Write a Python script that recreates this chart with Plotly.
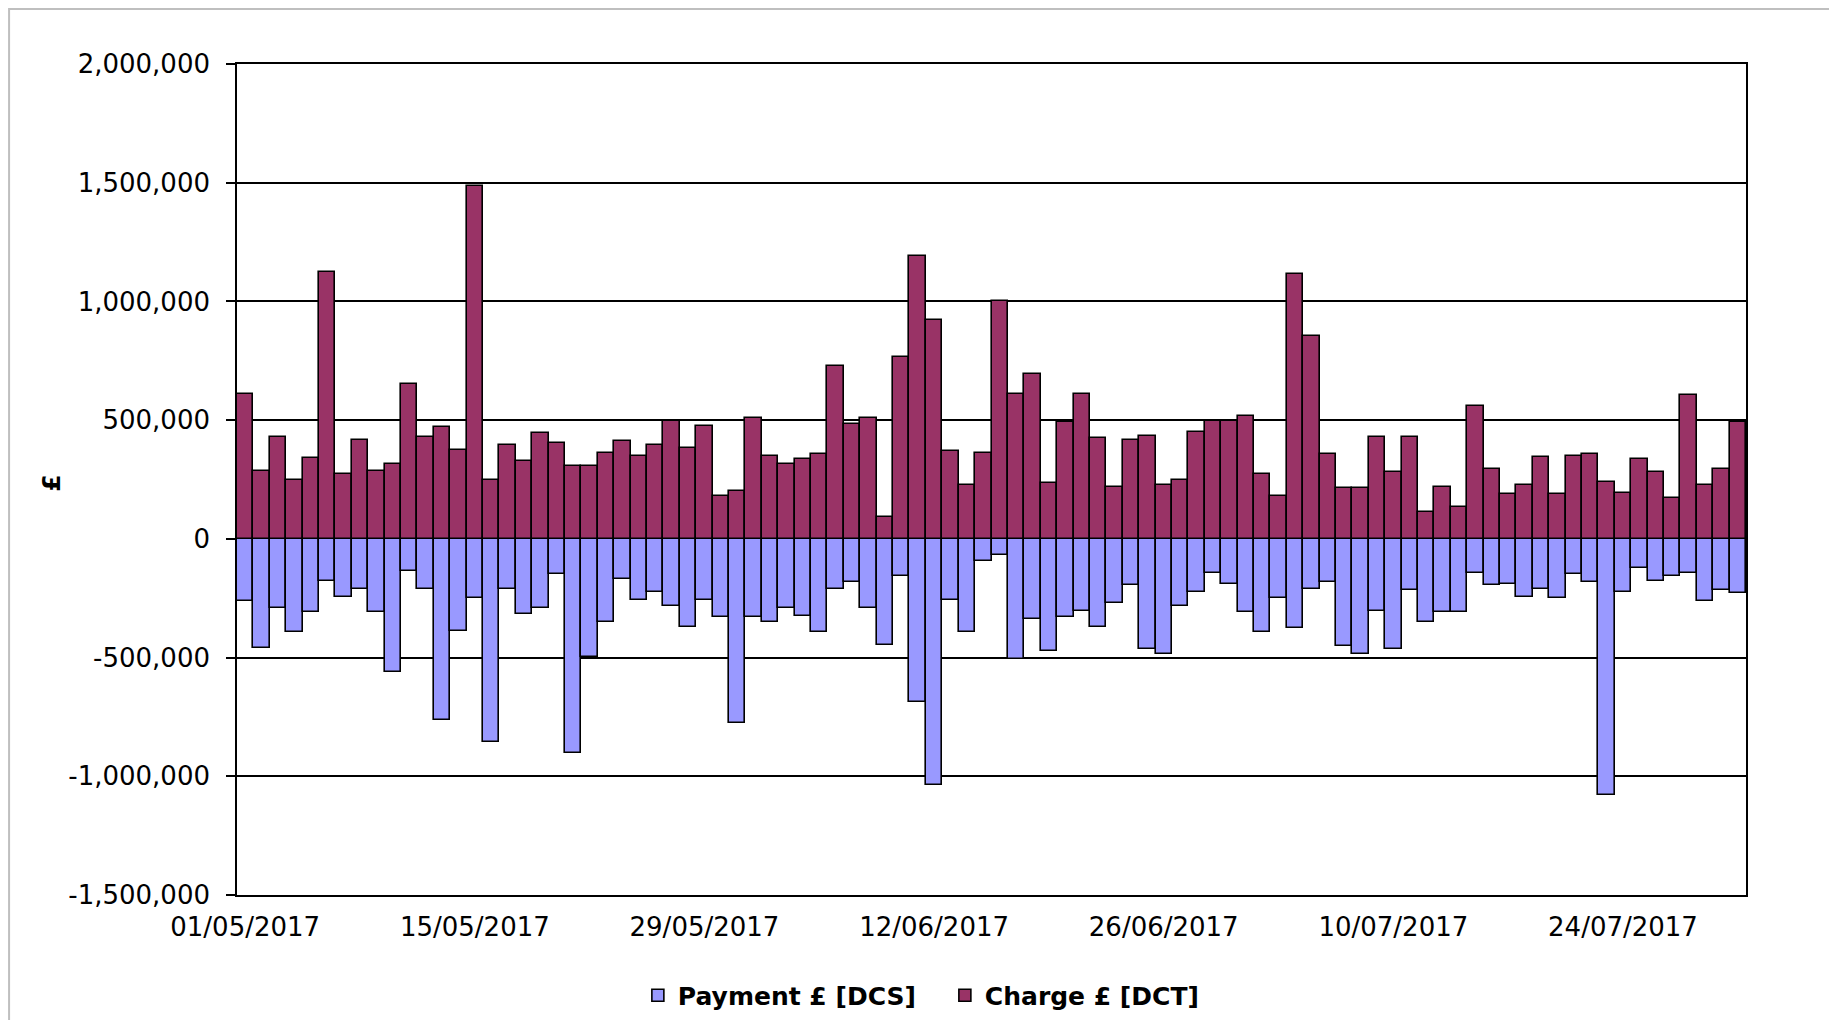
import pandas as pd
import plotly.graph_objects as go

start_date = "2017-05-01"
n_days = 92
dates = pd.date_range(start_date, periods=n_days)

charge = [
    611000, 287000, 429000, 248000, 341000, 1122000, 275000, 417000, 287000, 317000,
    652000, 429000, 470000, 375000, 1485000, 248000, 396000, 329000, 444000, 403000,
    308000, 308000, 363000, 411000, 349000, 396000, 496000, 382000, 477000, 181000,
    200000, 511000, 349000, 315000, 336000, 356000, 726000, 484000, 511000, 93000,
    766000, 1191000, 921000, 370000, 227000, 363000, 1002000, 611000, 694000, 234000,
    491000, 611000, 423000, 220000, 417000, 435000, 227000, 248000, 451000, 496000,
    496000, 516000, 275000, 181000, 1117000, 854000, 356000, 213000, 213000, 430000,
    282000, 430000, 114000, 220000, 133000, 558000, 294000, 188000, 227000, 343000,
    188000, 349000, 356000, 241000, 194000, 336000, 282000, 174000, 606000, 227000,
    294000, 491000,
]

payment = [
    -262000, -458000, -291000, -391000, -310000, -176000, -244000, -210000, -310000, -559000,
    -136000, -210000, -762000, -386000, -250000, -855000, -210000, -317000, -291000, -150000,
    -904000, -499000, -351000, -169000, -256000, -222000, -284000, -370000, -256000, -330000,
    -775000, -330000, -351000, -291000, -324000, -391000, -210000, -182000, -291000, -446000,
    -157000, -688000, -1036000, -256000, -391000, -95000, -67000, -504000, -337000, -472000,
    -330000, -303000, -370000, -270000, -196000, -465000, -485000, -284000, -222000, -143000,
    -189000, -310000, -391000, -250000, -377000, -210000, -182000, -451000, -485000, -303000,
    -465000, -215000, -351000, -310000, -310000, -143000, -196000, -189000, -243000, -210000,
    -250000, -150000, -182000, -1077000, -222000, -122000, -176000, -157000, -143000, -263000,
    -215000, -229000,
]

tick_dates = ["2017-05-01", "2017-05-15", "2017-05-29", "2017-06-12",
              "2017-06-26", "2017-07-10", "2017-07-24"]
tick_labels = ["01/05/2017", "15/05/2017", "29/05/2017", "12/06/2017",
               "26/06/2017", "10/07/2017", "24/07/2017"]

y_ticks = [-1500000, -1000000, -500000, 0, 500000, 1000000, 1500000, 2000000]
y_tick_labels = ["-1,500,000", "-1,000,000", "-500,000", "0", "500,000",
                 "1,000,000", "1,500,000", "2,000,000"]

series_names = ["Payment £ [DCS]", "Charge £ [DCT]"]
series_colors = ["#9999FF", "#993366"]

FONT = "DejaVu Sans"

fig = go.Figure()
fig.add_trace(go.Bar(
    x=dates, y=payment, name=series_names[0],
    marker=dict(color=series_colors[0], line=dict(color="black", width=1.6)),
))
fig.add_trace(go.Bar(
    x=dates, y=charge, name=series_names[1],
    marker=dict(color=series_colors[1], line=dict(color="black", width=1.6)),
))

# page offset of the figure inside the html body (default body margin)
OFF = 8
W, H = 1829, 1012
# plot area in page coordinates
PL, PR, PT, PB = 237, 1746.5, 64, 895.5
L = PL - OFF
T = PT - OFF
R = W - (PR - OFF)
B = H - (PB - OFF)
pw = W - L - R
ph = H - T - B

def px_x(x):
    return (x - OFF - L) / pw

def px_y(y):
    return (H - B - (y - OFF)) / ph

fig.update_layout(
    width=W, height=H, autosize=False,
    margin=dict(l=L, r=R, t=T, b=B, pad=0, autoexpand=False),
    barmode="relative", bargap=0,
    plot_bgcolor="white", paper_bgcolor="white",
    font=dict(family=FONT, size=26, color="black"),
    showlegend=True,
    legend=dict(
        orientation="h", x=px_x(638), xanchor="left",
        y=px_y(996), yanchor="middle",
        font=dict(family=FONT, size=25, color="black", weight="bold"),
        entrywidth=262, entrywidthmode="pixels",
        traceorder="normal",
        bgcolor="rgba(0,0,0,0)",
    ),
    xaxis=dict(
        type="date",
        range=["2017-04-30 12:00", "2017-07-31 12:00"],
        tickvals=tick_dates, ticktext=tick_labels,
        ticks="", showgrid=False,
        showline=True, linecolor="black", linewidth=1.6, mirror=True,
        tickfont=dict(family=FONT, size=26, color="black"),
        ticklabelstandoff=8,
        automargin=False,
    ),
    yaxis=dict(
        range=[-1500000, 2000000],
        tickvals=y_ticks, ticktext=y_tick_labels,
        ticks="outside", ticklen=9, tickwidth=1.6, tickcolor="black",
        showgrid=True, gridcolor="black", gridwidth=1.5,
        zeroline=True, zerolinecolor="black", zerolinewidth=1.6,
        showline=True, linecolor="black", linewidth=1.6, mirror=True,
        tickfont=dict(family=FONT, size=26, color="black"),
        ticklabelstandoff=11,
        automargin=False,
    ),
    annotations=[dict(
        text="£", xref="paper", yref="paper",
        x=px_x(52), y=px_y(484), xanchor="center", yanchor="middle",
        textangle=-90, showarrow=False,
        font=dict(family=FONT, size=25, color="black", weight="bold"),
    )],
    shapes=[dict(
        type="rect", xref="paper", yref="paper",
        x0=px_x(OFF + 1), x1=px_x(1833), y0=px_y(OFF + 1), y1=px_y(1040),
        line=dict(color="#BFBFBF", width=2), fillcolor="rgba(0,0,0,0)",
        layer="below",
    )],
)

fig.write_html("out.html")
